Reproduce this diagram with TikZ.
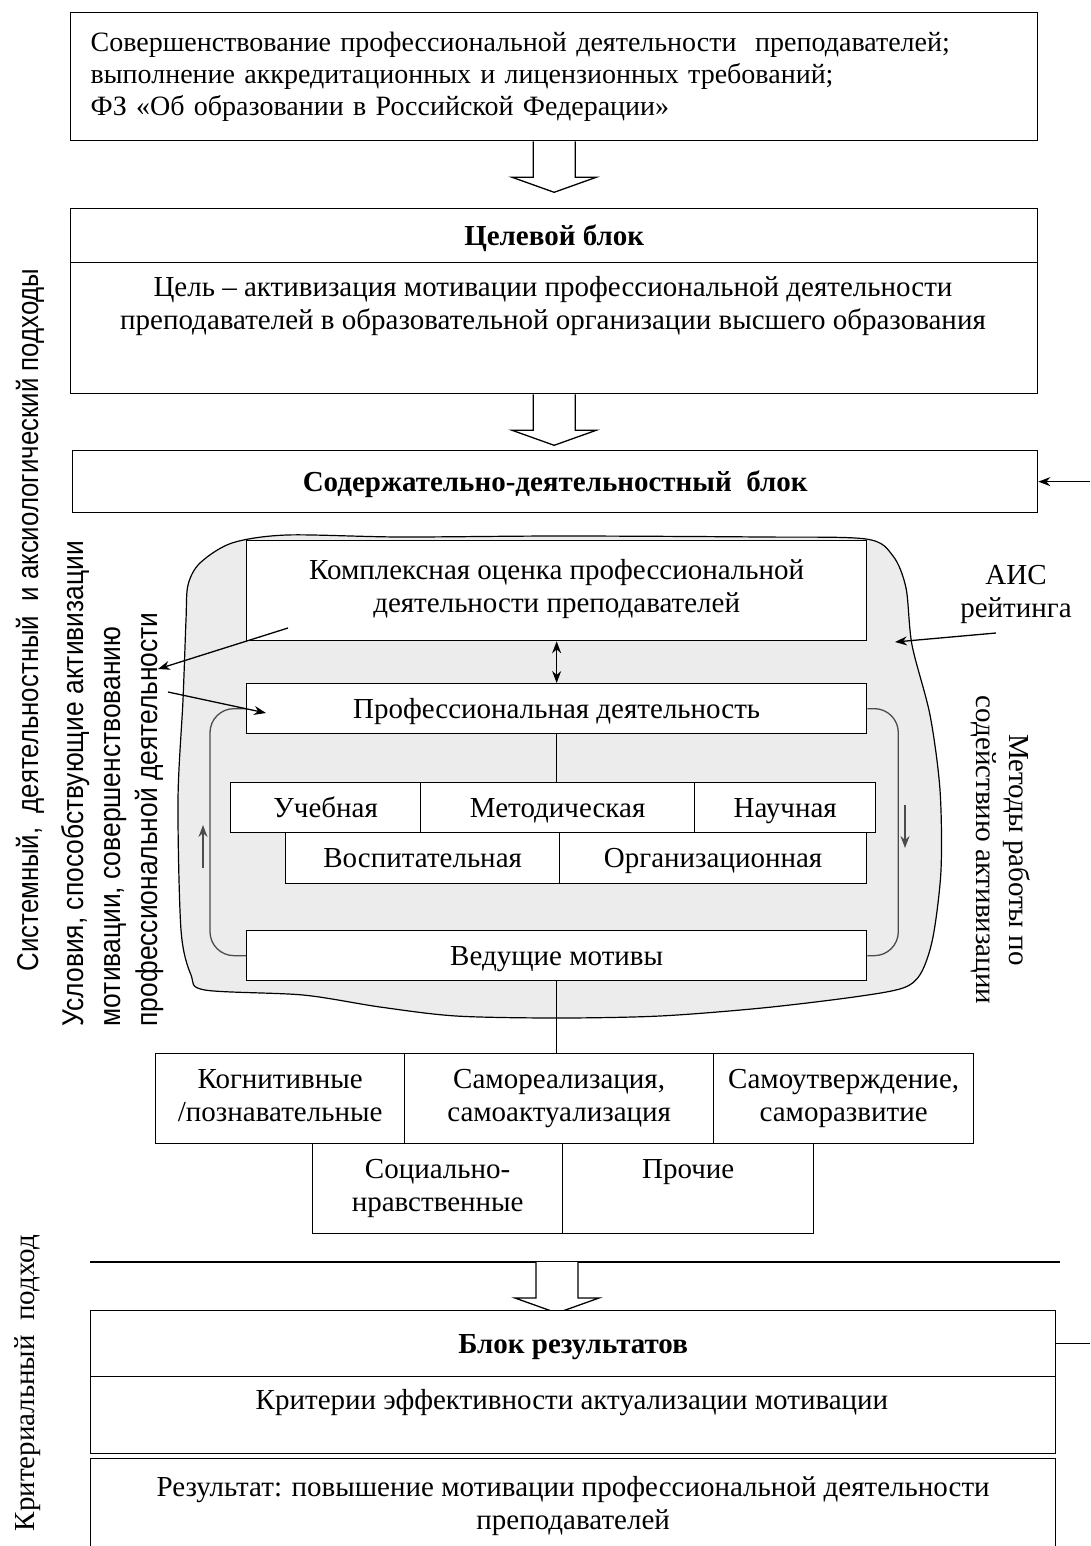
\documentclass[tikz,border=0pt]{standalone}
\usepackage{fontspec}
\setmainfont{Liberation Serif}
\newfontfamily\narrowsf[FakeStretch=0.86]{Liberation Sans}
\newfontfamily\narrowsfb[FakeStretch=0.88]{Liberation Sans}
\usetikzlibrary{arrows.meta, calc}

\tikzset{
  txt/.style={font=\fontsize{29}{33}\selectfont},
  cell/.style={draw, fill=white, txt, inner sep=0pt, anchor=north west, align=center},
  one/.style={text height=22pt, text depth=3pt},
  title/.style={cell, one, font=\fontsize{29}{33}\selectfont\bfseries},
  loopline/.style={black!70, rounded corners=24pt},
  hollow/.pic={\draw[fill=white] (-21,0) -- (-21,36) -- (-42,36) -- (0,51) -- (42,36) -- (21,36) -- (21,0);},
}

\begin{document}
\begin{tikzpicture}[x=1pt,y=-1pt,>={Stealth[length=12pt,width=9pt]},line width=1.3pt]
  \useasboundingbox (0,0) rectangle (1090,1546);

  % grey area
  \draw[fill=gray!15, line width=1.2pt] plot[smooth cycle, tension=0.5] coordinates {
    (188,585) (200,563) (232,543) (287,535) (400,537) (560,536) (760,537)
    (866,539) (893,556) (906,588) (912,645) (930,715) (940,790) (941,870)
    (933,937) (921,973) (903,988) (854,997) (762,1008) (660,1016) (558,1018)
    (456,1016) (380,1007) (303,995) (205,990) (191,975) (181,930) (178,800)
    (183,700) (186,620)};

  % top
  \node[cell, minimum width=967pt, minimum height=128pt, text width=927pt,
    inner xsep=20pt, align=left, font=\fontsize{28}{32}\selectfont] (src) at (70,12)
    {Совершенствование профессиональной деятельности \ преподавателей;\\
     выполнение аккредитационных и лицензионных требований;\\
     ФЗ «Об образовании в Российской Федерации»};
  \pic at (src.south) {hollow};

  % goal
  \node[title, minimum width=967pt, minimum height=54pt] (goalhead) at (70,208) {Целевой блок};
  \node[cell, minimum width=967pt, minimum height=131pt] (goalbody) at (70,262) {};
  \node[txt, align=center, inner sep=0pt] (goaltxt) at (553,306)
    {Цель -- активизация мотивации профессиональной деятельности\\
     преподавателей в образовательной организации высшего образования};
  \pic at (goalbody.south) {hollow};

  % content block
  \node[title, minimum width=965pt, minimum height=62pt] (act) at (72,450)
    {Содержательно-деятельностный \ блок};
  \coordinate (actin) at (1090,481);
  \draw[<-] (act.east) -- (act.east -| actin);

  % inside grey area
  \node[cell, minimum width=620pt, minimum height=100pt] (comp) at (246,540)
    {Комплексная оценка профессиональной\\деятельности преподавателей\strut};
  \node[cell, one, minimum width=620pt, minimum height=50pt] (prof) at (246,683)
    {Профессиональная деятельность};
  \draw[<->] (comp.south) -- (prof.north);

  \node[cell, one, minimum width=190pt, minimum height=50pt] (uch) at (230,782) {Учебная};
  \node[cell, one, minimum width=274pt, minimum height=50pt] (met) at (420,782) {Методическая};
  \node[cell, one, minimum width=181pt, minimum height=50pt] (sci) at (694,782) {Научная};
  \node[cell, one, minimum width=274pt, minimum height=51pt] (vosp) at (285,832) {Воспитательная};
  \node[cell, one, minimum width=307pt, minimum height=51pt] (org) at (559,832) {Организационная};
  \draw (prof.south) -- (prof.south |- met.north);

  \node[cell, one, minimum width=620pt, minimum height=50pt] (lead) at (246,930) {Ведущие мотивы};

  % loops
  \draw[loopline] (prof.west) -- ++(-36,0) |- (lead.west);
  \draw[loopline] (prof.east) -- ++(31,0) |- (lead.east);
  \draw[->, black!70] (203,868) -- (203,825);
  \draw[->, black!70] (905,805) -- (905,848);

  % motives
  \node[cell, minimum width=249pt, minimum height=90pt] (cog) at (155,1053) {\strut Когнитивные\\/познавательные\strut};
  \node[cell, minimum width=309pt, minimum height=90pt] (samo) at (404,1053) {\strut Самореализация,\\самоактуализация\strut};
  \node[cell, minimum width=260pt, minimum height=90pt] (selfa) at (713,1053) {\strut Самоутверждение,\\саморазвитие\strut};
  \node[cell, minimum width=250pt, minimum height=90pt] (soc) at (312,1143) {\strut Социально-\\нравственные\strut};
  \node[cell, minimum width=251pt, minimum height=90pt] (oth) at (562,1143) {\strut Прочие\\\strut};
  \draw (lead.south) -- (lead.south |- samo.north);

  % side texts
  \node[rotate=90, inner sep=0pt, font=\narrowsf\fontsize{30}{37}\selectfont] (sys) at (30,620)
    {Системный, \ деятельностный \ и аксиологический подходы};
  \node[rotate=90, anchor=west, align=left, inner sep=0pt,
    font=\narrowsfb\fontsize{30}{37}\selectfont] (cond) at (113,1027)
    {Условия, способствующие активизации\\мотивации, совершенствованию\\профессиональной деятельности};
  \node[txt, rotate=-90, align=center, inner sep=0pt] (meth) at (1001,850)
    {Методы работы по\\содействию активизации};
  \node[txt, align=center, inner sep=0pt] (ais) at (1016,594) {АИС\\рейтинга};
  \node[txt, rotate=90, inner sep=0pt] (crit) at (28,1383) {Критериальный \ подход};

  \coordinate (c1a) at (288,628);
  \coordinate (c1b) at (158,669);
  \draw[->] (c1a) -- (c1b);
  \coordinate (c2a) at (168,692);
  \coordinate (c2b) at (266,713);
  \draw[->] (c2a) -- (c2b);
  \coordinate (aisa) at (996,633);
  \coordinate (aisb) at (895,642);
  \draw[->] (aisa) -- (aisb);

  % results
  \coordinate (sepl) at (90,1262);
  \coordinate (sepr) at (1060,1262);
  \draw (sepl) -- (sepr);
  \pic at (557,1262) {hollow};
  \node[title, minimum width=965pt, minimum height=66pt] (reshead) at (90,1310) {Блок результатов};
  \node[cell, minimum width=965pt, minimum height=77pt] (resbody) at (90,1376) {};
  \node[txt, inner sep=0pt] (restxt) at (572,1403) {Критерии эффективности актуализации мотивации};
  \coordinate (resout) at (1090,1343);
  \draw (reshead.east) -- (reshead.east -| resout);
  \node[cell, minimum width=965pt, minimum height=96pt] (result) at (90,1458)
    {\strut Результат: повышение мотивации профессиональной деятельности\\преподавателей\strut};
\end{tikzpicture}
\end{document}
